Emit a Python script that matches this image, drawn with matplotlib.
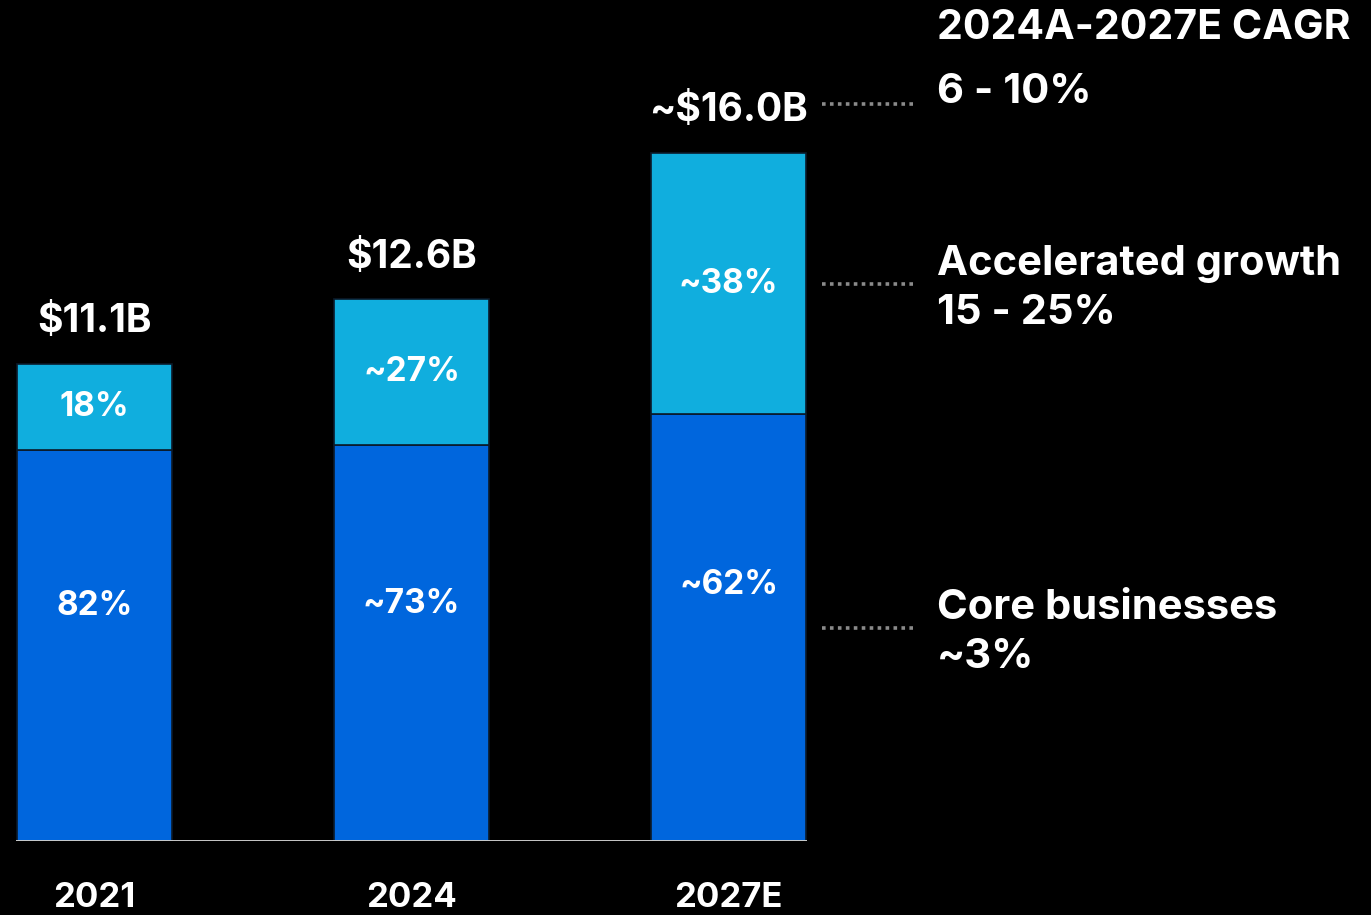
import matplotlib.pyplot as plt
from matplotlib.lines import Line2D
import numpy as np

# Dados do gráfico
anos = ['2021', '2024', '2027E']
totais = [11.1, 12.6, 16.0]
total_labels = ['$11.1B', '$12.6B', '~$16.0B']
share_core = [0.82, 0.73, 0.62]
share_accel = [0.18, 0.27, 0.38]
core_labels = ['82%', '~73%', '~62%']
accel_labels = ['18%', '~27%', '~38%']

cagr_title = '2024A-2027E CAGR'
cagr_total = '6 - 10%'
cagr_accel = 'Accelerated growth\n15 - 25%'
cagr_core = 'Core businesses\n~3%'

COR_CORE = '#0066DD'
COR_ACCEL = '#10AEDE'
FONTE = ['Inter', 'DejaVu Sans']

W, H = 1371, 915
fig = plt.figure(figsize=(W / 100, H / 100), dpi=100, facecolor='black')

# Eixo ocupando a área das barras (em pixels da referência)
base_px = 841
ax = fig.add_axes([16 / W, (H - base_px) / H, 791 / W, base_px / H])
ax.set_facecolor('black')
ax.set_xlim(-0.2476, 2.2476)
ax.set_ylim(0, base_px / 43.0)
ax.axis('off')

x = np.arange(len(anos))
core = np.array(totais) * np.array(share_core)
accel = np.array(totais) * np.array(share_accel)
largura = 0.489

ax.bar(x, core, width=largura, color=COR_CORE, edgecolor='#0b1a2a', linewidth=1.2)
ax.bar(x, accel, width=largura, bottom=core, color=COR_ACCEL, edgecolor='#0b1a2a', linewidth=1.2)
ax.axhline(0, xmin=0, xmax=1, color='#dddddd', linewidth=2)

for i in range(len(anos)):
    ax.text(x[i], core[i] + accel[i] / 2, accel_labels[i], ha='center', va='center',
            color='white', fontsize=24, fontweight='bold', family=FONTE)
    ax.text(x[i], core[i] * 0.6, core_labels[i], ha='center', va='center',
            color='white', fontsize=24, fontweight='bold', family=FONTE)
    ax.text(x[i], totais[i] + 0.55, total_labels[i], ha='center', va='bottom',
            color='white', fontsize=28, fontweight='bold', family=FONTE)
    ax.text(x[i], -1.33, anos[i], ha='center', va='center',
            color='white', fontsize=25, fontweight='bold', family=FONTE)

# Linhas pontilhadas e textos de CAGR à direita
ultimo = len(anos) - 1
ys_data = [totais[ultimo] + 1.15, core[ultimo] + accel[ultimo] / 2, core[ultimo] / 2]
textos = [cagr_total, cagr_accel, cagr_core]
for yd, txt in zip(ys_data, textos):
    _, y_px = ax.transData.transform((0, yd))
    yf = y_px / H
    fig.add_artist(Line2D([822 / W, 913 / W], [yf, yf], transform=fig.transFigure,
                          color='#8a8a8a', linestyle=(0, (1, 1.2)), linewidth=2.6))
    fig.text(937 / W, yf + (0.013 if txt == cagr_total else -0.005), txt, ha='left', va='center',
             color='white', fontsize=30, fontweight='bold', family=FONTE, linespacing=1.35)

fig.text(937 / W, (H - 28) / H, cagr_title, ha='left', va='center',
         color='white', fontsize=29.5, fontweight='bold', family=FONTE)

fig.savefig('out.png', dpi=100, facecolor='black')
